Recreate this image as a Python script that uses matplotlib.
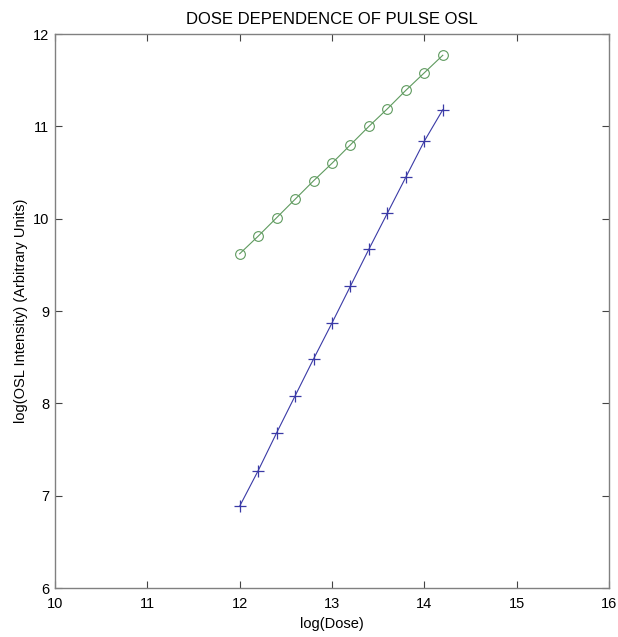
import numpy as np
import matplotlib
matplotlib.use("Agg")
import matplotlib.pyplot as plt

# data
log_dose = [12.0, 12.2, 12.4, 12.6, 12.8, 13.0, 13.2, 13.4, 13.6, 13.8, 14.0, 14.2]
osl_green = [9.62, 9.81, 10.01, 10.21, 10.41, 10.60, 10.80, 11.00, 11.19, 11.39, 11.58, 11.77]
osl_blue = [6.886, 7.27, 7.68, 8.08, 8.48, 8.87, 9.27, 9.67, 10.06, 10.45, 10.84, 11.18]

x_ticks = [10, 11, 12, 13, 14, 15, 16]
y_ticks = [6, 7, 8, 9, 10, 11, 12]

plt.rcParams['font.family'] = ['Liberation Sans', 'DejaVu Sans']
plt.rcParams['font.size'] = 10.5

fig = plt.figure(figsize=(6.18, 6.37), dpi=100)
ax = fig.add_axes([0.089, 0.0769, 0.8964, 0.8697])

green = '#5e9a5e'
blue = '#3a3aa6'

ax.plot(log_dose, osl_green, color=green, lw=0.8, marker='o', ms=7,
        mfc='none', mec=green, mew=0.8)
ax.plot(log_dose, osl_blue, color=blue, lw=0.8, marker='+', ms=9,
        mec=blue, mew=0.9)

ax.set_xlim(10, 16)
ax.set_ylim(6, 12)
ax.set_xticks(x_ticks)
ax.set_yticks(y_ticks)
ax.tick_params(direction='in', top=True, right=True, length=5, width=0.8,
               color='#444444')
ax.tick_params(axis='x', pad=6.5)
ax.tick_params(axis='y', pad=4)

for s in ax.spines.values():
    s.set_color('#808080')
    s.set_linewidth(1.0)

ax.set_title('DOSE DEPENDENCE OF PULSE OSL', fontsize=12, pad=7)
ax.set_xlabel('log(Dose)', labelpad=4.5)
ax.set_ylabel('log(OSL Intensity) (Arbitrary Units)', labelpad=4)

fig.savefig('out.png', dpi=100)
